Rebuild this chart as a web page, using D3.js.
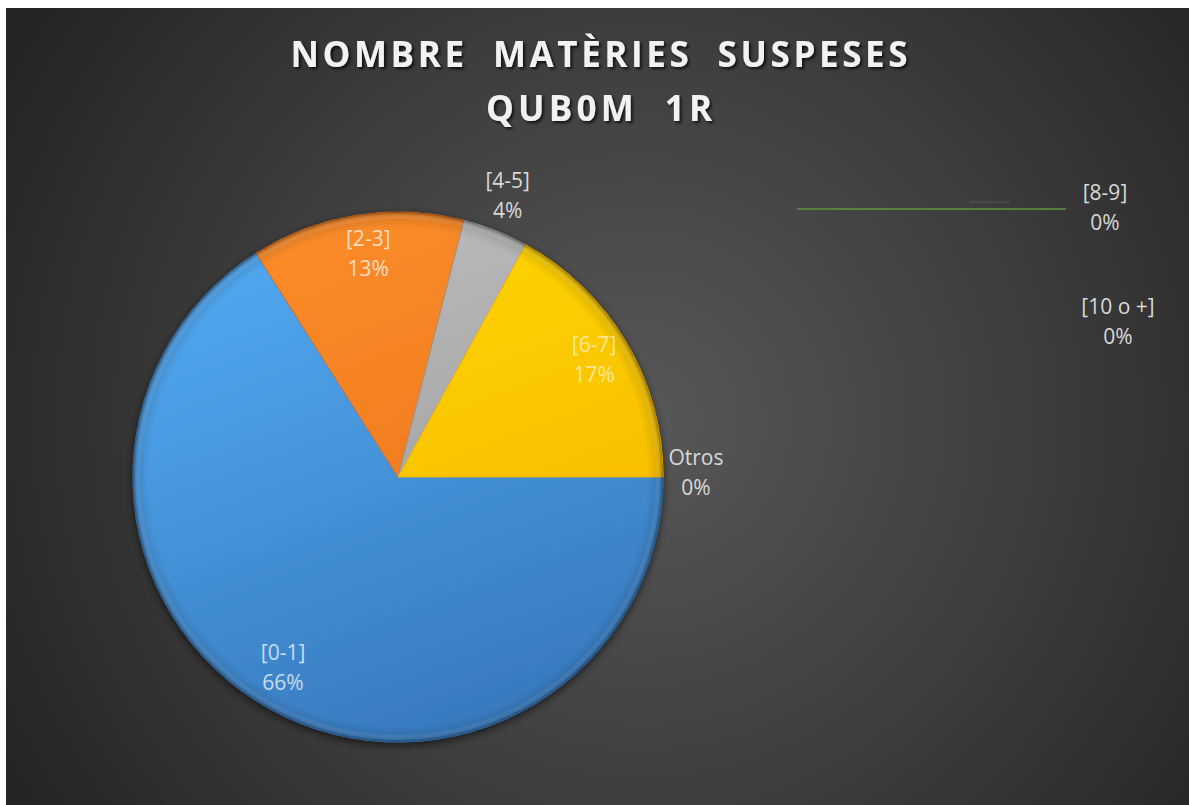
<!DOCTYPE html>
<html>
<head>
<meta charset="utf-8">
<script src="https://cdn.jsdelivr.net/npm/d3@7"></script>
<style>
html,body{margin:0;padding:0;background:#ffffff;}
svg{display:block;}
</style>
</head>
<body>
<script>
// ---- data ----
const categories = ["[0-1]", "[2-3]", "[4-5]", "[6-7]", "[8-9]", "[10 o +]", "Otros"];
const values = [66, 13, 4, 17, 0, 0, 0];
const percentLabels = ["66%", "13%", "4%", "17%", "0%", "0%", "0%"];
const titleLines = ["NOMBRE  MATÈRIES  SUSPESES", "QUB0M  1R"];

// ---- style / layout ----
const W = 1189, H = 805;
const colorsTop = ["#52aaf2", "#fb8d2a", "#bdbdbd", "#ffd800", "#70ad47", "#5b9bd5", "#264478"];
const colorsBot = ["#3779bd", "#e86e18", "#959595", "#f5b400", "#5a8f38", "#41719c", "#1f3864"];
const cx = 398, cy = 477, R = 265;

const svg = d3.select("body").append("svg").attr("width", W).attr("height", H);
const defs = svg.append("defs");

// background gradient
const bg = defs.append("radialGradient").attr("id", "bg")
  .attr("gradientUnits", "userSpaceOnUse")
  .attr("cx", 640).attr("cy", 420).attr("r", 720);
bg.append("stop").attr("offset", 0).attr("stop-color", "#585858");
bg.append("stop").attr("offset", 0.55).attr("stop-color", "#3d3d3d");
bg.append("stop").attr("offset", 1).attr("stop-color", "#252525");

svg.append("rect").attr("x", 6).attr("y", 8).attr("width", W - 6).attr("height", H - 8)
  .attr("fill", "url(#bg)");

// shadows
const ts = defs.append("filter").attr("id", "tshadow").attr("x", "-10%").attr("y", "-30%").attr("width", "120%").attr("height", "160%");
ts.append("feDropShadow").attr("dx", 2).attr("dy", 2).attr("stdDeviation", 1.5)
  .attr("flood-color", "#000").attr("flood-opacity", 0.75);

const ps = defs.append("filter").attr("id", "pshadow").attr("x", "-10%").attr("y", "-10%").attr("width", "120%").attr("height", "120%");
ps.append("feDropShadow").attr("dx", 0).attr("dy", 3).attr("stdDeviation", 4)
  .attr("flood-color", "#000").attr("flood-opacity", 0.6);

// slice gradients (local coordinates of the pie group)
categories.forEach((c, i) => {
  const g = defs.append("linearGradient").attr("id", "g" + i)
    .attr("gradientUnits", "userSpaceOnUse")
    .attr("x1", -R * 0.45).attr("y1", -R).attr("x2", R * 0.3).attr("y2", R);
  g.append("stop").attr("offset", 0).attr("stop-color", colorsTop[i]);
  g.append("stop").attr("offset", 1).attr("stop-color", colorsBot[i]);
});

// bevel overlay gradient
const bev = defs.append("radialGradient").attr("id", "bevel")
  .attr("gradientUnits", "userSpaceOnUse").attr("cx", 0).attr("cy", 0).attr("r", R);
bev.append("stop").attr("offset", 0.94).attr("stop-color", "#000").attr("stop-opacity", 0);
bev.append("stop").attr("offset", 0.985).attr("stop-color", "#000").attr("stop-opacity", 0.12);
bev.append("stop").attr("offset", 1).attr("stop-color", "#000").attr("stop-opacity", 0.35);

// ---- title ----
const title = svg.append("g").attr("filter", "url(#tshadow)")
  .attr("font-family", "'Open Sans', sans-serif").attr("font-weight", 700).attr("font-size", 35)
  .attr("fill", "#f2f2f2").attr("text-anchor", "middle");
title.append("text").attr("x", 599).attr("y", 67)
  .attr("textLength", 617).attr("lengthAdjust", "spacing")
  .style("white-space", "pre").text(titleLines[0]);
title.append("text").attr("x", 599).attr("y", 121)
  .attr("textLength", 226).attr("lengthAdjust", "spacing")
  .style("white-space", "pre").text(titleLines[1]);

// ---- pie ----
const data = categories.map((c, i) => ({ cat: c, value: values[i], pct: percentLabels[i], i }));
const pie = d3.pie().value(d => d.value).sort(null)
  .startAngle(Math.PI / 2).endAngle(Math.PI / 2 + 2 * Math.PI);
const arcs = pie(data);
const arc = d3.arc().innerRadius(0).outerRadius(R);

const pg = svg.append("g").attr("transform", `translate(${cx},${cy})`);
const slices = pg.append("g").attr("filter", "url(#pshadow)");
slices.selectAll("path").data(arcs.filter(a => a.value > 0)).join("path")
  .attr("d", arc)
  .attr("fill", d => `url(#g${d.data.i})`)
  .attr("stroke", d => colorsBot[d.data.i])
  .attr("stroke-width", 1)
  .attr("stroke-linejoin", "round");
// subtle bevel
pg.append("circle").attr("r", R).attr("fill", "url(#bevel)");
pg.append("g").selectAll("path").data(arcs.filter(a => a.value > 0)).join("path")
  .attr("d", d3.arc().innerRadius(R - 7).outerRadius(R - 2))
  .attr("fill", "#ffffff").attr("opacity", 0.07);

// ---- data labels ----
const labelFont = "'Open Sans', sans-serif";
const fs = 21;
const insideArc = d3.arc().innerRadius(222).outerRadius(222);
const outsideArc = d3.arc().innerRadius(298).outerRadius(298);
const labelMode = ["inside", "inside", "outside", "inside", "manual", "manual", "edge"];
const manualPos = { 4: [1105, 200], 5: [1118, 314] };

const lg = svg.append("g").attr("font-family", labelFont).attr("font-size", fs);
arcs.forEach(a => {
  const i = a.data.i;
  let x, y, fill, op = 1;
  if (labelMode[i] === "inside") {
    const c = insideArc.centroid(a);
    x = cx + c[0] + (i === 0 ? -8 : 5); y = cy + c[1] - 12;
    fill = "#ffffff"; op = i === 3 ? 0.6 : 0.72;
  } else if (labelMode[i] === "outside") {
    const c = outsideArc.centroid(a);
    x = cx + c[0]; y = cy + c[1] - 12;
    fill = "#d9d9d9";
  } else if (labelMode[i] === "edge") {
    x = cx + R + 33; y = cy - 12;
    fill = "#d9d9d9";
  } else {
    x = manualPos[i][0]; y = manualPos[i][1];
    fill = "#d9d9d9";
  }
  const t = lg.append("text").attr("text-anchor", "middle").attr("fill", fill).attr("fill-opacity", op)
    .style("white-space", "pre");
  t.append("tspan").attr("x", x).attr("y", y).text(a.data.cat);
  t.append("tspan").attr("x", x).attr("y", y + 30).text(a.data.pct);
});

// leader line of zero-size slice [8-9]
svg.append("line").attr("x1", 797).attr("x2", 1066).attr("y1", 209).attr("y2", 209)
  .attr("stroke", "#5b8c3c").attr("stroke-width", 2).attr("stroke-opacity", 0.85);
svg.append("line").attr("x1", 970).attr("x2", 1010).attr("y1", 202).attr("y2", 202)
  .attr("stroke", "#5a6370").attr("stroke-width", 1.5).attr("stroke-opacity", 0.5);
</script>
</body>
</html>
